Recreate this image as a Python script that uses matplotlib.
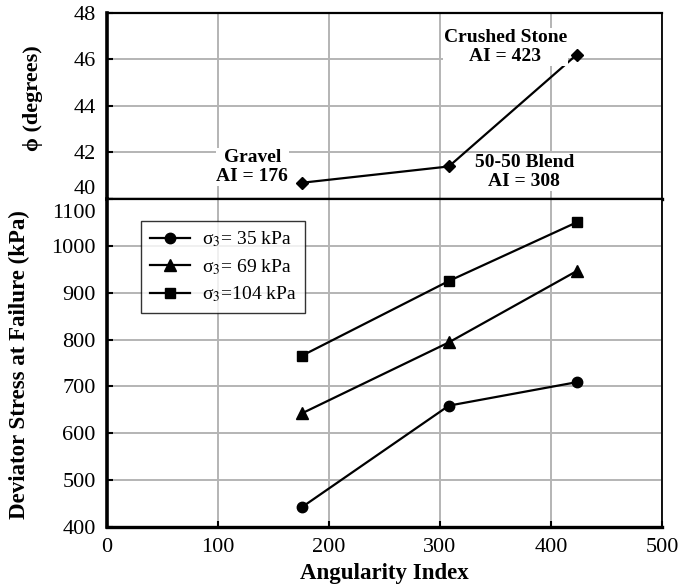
import numpy as np
import matplotlib
matplotlib.use('Agg')
import matplotlib.pyplot as plt
from matplotlib.transforms import ScaledTranslation

plt.rcParams['font.family'] = ['Liberation Serif', 'DejaVu Serif']
plt.rcParams['mathtext.fontset'] = 'stix'

# data
ai = [176, 308, 423]
phi = [40.7, 41.4, 46.2]
stress_35 = [443, 659, 709]
stress_69 = [643, 794, 946]
stress_104 = [766, 925, 1050]
legend_labels = ['σ$_3$= 35 kPa', 'σ$_3$= 69 kPa', 'σ$_3$=104 kPa']
material_labels = ['Gravel\nAI = 176', '50-50 Blend\nAI = 308', 'Crushed Stone\nAI = 423']

fig = plt.figure(figsize=(6.87, 5.87), dpi=100)
ax_top = fig.add_axes([0.1557, 0.6610, 0.8079, 0.3169])
ax_bot = fig.add_axes([0.1557, 0.1022, 0.8079, 0.5588])

grid_kw = dict(color='#b4b4b4', linewidth=1.4)
for ax in (ax_top, ax_bot):
    ax.set_xlim(0, 500)
    ax.set_xticks(np.arange(0, 501, 100))
    ax.grid(True, **grid_kw)
    ax.set_axisbelow(True)
    ax.spines['left'].set_linewidth(2.6)
    ax.spines['bottom'].set_linewidth(2.4)
    ax.spines['top'].set_linewidth(1.6)
    ax.spines['right'].set_linewidth(1.3)
    ax.tick_params(direction='in', length=4, width=1.5, labelsize=16, pad=8)

# top panel: friction angle
ax_top.plot(ai, phi, color='black', linewidth=1.6, marker='D', markersize=6.5)
ax_top.set_ylim(40, 48)
ax_top.set_yticks(np.arange(40, 49, 2))
ax_top.tick_params(axis='x', labelbottom=False, length=0)
ax_top.set_ylabel('ϕ (degrees)', fontsize=16, fontweight='bold')
ax_top.yaxis.set_label_coords(-0.115, 0.543)

text_pos = [(131, 41.38), (376, 41.16), (359, 46.54)]
for (tx, ty), lab in zip(text_pos, material_labels):
    ax_top.text(tx, ty, lab, ha='center', va='center', fontsize=14, fontweight='bold',
                linespacing=1.15, bbox=dict(facecolor='white', edgecolor='none', pad=0.5))

# bottom panel: deviator stress
ax_bot.plot(ai, stress_35, color='black', linewidth=1.6, marker='o', markersize=7.5, label=legend_labels[0])
ax_bot.plot(ai, stress_69, color='black', linewidth=1.6, marker='^', markersize=8, label=legend_labels[1])
ax_bot.plot(ai, stress_104, color='black', linewidth=1.6, marker='s', markersize=7, label=legend_labels[2])
ax_bot.set_ylim(400, 1100)
ax_bot.set_yticks(np.arange(400, 1101, 100))
ax_bot.set_xlabel('Angularity Index', fontsize=16.5, fontweight='bold')
ax_bot.xaxis.set_label_coords(0.5, -0.11)
ax_bot.set_ylabel('Deviator Stress at Failure (kPa)', fontsize=16.5, fontweight='bold')
ax_bot.yaxis.set_label_coords(-0.139, 0.494)

leg = ax_bot.legend(loc='upper left', bbox_to_anchor=(0.061, 0.934), borderaxespad=0,
                    fontsize=14, frameon=True, fancybox=False, edgecolor='black',
                    handlelength=2.1, handletextpad=0.6, borderpad=0.45, labelspacing=0.4)
leg.get_frame().set_linewidth(1.0)

# nudge the touching end labels apart
for lab in ax_top.get_yticklabels():
    if lab.get_text() == '40':
        lab.set_transform(lab.get_transform() + ScaledTranslation(0, 12 / 100, fig.dpi_scale_trans))
for lab in ax_bot.get_yticklabels():
    if lab.get_text() == '1100':
        lab.set_transform(lab.get_transform() + ScaledTranslation(0, -12 / 100, fig.dpi_scale_trans))

fig.savefig('out.png', dpi=100)
